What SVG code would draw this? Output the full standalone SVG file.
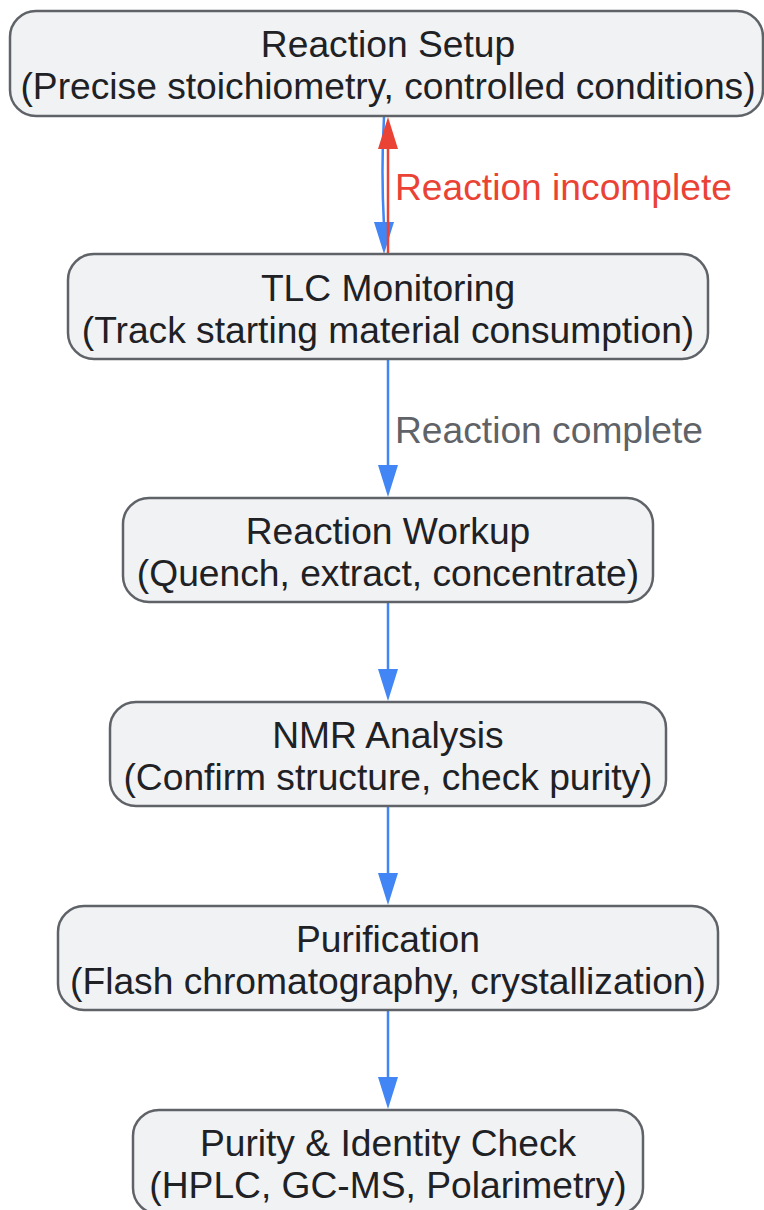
<svg xmlns="http://www.w3.org/2000/svg" width="764" height="1210" viewBox="0 0 764 1210">
<defs>
<style>
.node rect{fill:#f1f2f4;stroke:#5f6368;stroke-width:2.5}
.node text{font-family:"Liberation Sans",Arial,sans-serif;font-size:37.2px;fill:#202124;text-anchor:middle}
.e{fill:none;stroke-width:2.5}
.blue{stroke:#4285f4}
.red{stroke:#ea4335}
.lbl{font-family:"Liberation Sans",Arial,sans-serif;font-size:37.2px}
</style>
</defs>
<g id="connectors">
<path class="e blue" d="M384,117 Q381,170 384,226"/>
<path d="M374,222 L394,222 L384,254 Z" fill="#4285f4"/>
<line class="e red" x1="388" y1="254" x2="388" y2="146"/>
<path d="M378,149 L398,149 L388,117 Z" fill="#ea4335"/>
<line class="e blue" x1="388" y1="359" x2="388" y2="468"/>
<path d="M378,465 L398,465 L388,497 Z" fill="#4285f4"/>
<line class="e blue" x1="388" y1="602" x2="388" y2="672"/>
<path d="M378,669 L398,669 L388,701 Z" fill="#4285f4"/>
<line class="e blue" x1="388" y1="806" x2="388" y2="876"/>
<path d="M378,873 L398,873 L388,905 Z" fill="#4285f4"/>
<line class="e blue" x1="388" y1="1010" x2="388" y2="1080"/>
<path d="M378,1077 L398,1077 L388,1109 Z" fill="#4285f4"/>
<text class="lbl" x="395" y="200" fill="#ea4335">Reaction incomplete</text>
<text class="lbl" x="395" y="443" fill="#5f6368">Reaction complete</text>
</g>
<g id="n1" class="node"><rect x="10" y="11" width="753" height="105" rx="26"/><text x="388" y="57">Reaction Setup</text><text x="388" y="99">(Precise stoichiometry, controlled conditions)</text></g>
<g id="n2" class="node"><rect x="68" y="254" width="640" height="105" rx="26"/><text x="388" y="301">TLC Monitoring</text><text x="388" y="343">(Track starting material consumption)</text></g>
<g id="n3" class="node"><rect x="123" y="498" width="530" height="104" rx="26"/><text x="388" y="544">Reaction Workup</text><text x="388" y="586">(Quench, extract, concentrate)</text></g>
<g id="n4" class="node"><rect x="110" y="702" width="556" height="104" rx="26"/><text x="388" y="748">NMR Analysis</text><text x="388" y="790">(Confirm structure, check purity)</text></g>
<g id="n5" class="node"><rect x="58" y="906" width="660" height="104" rx="26"/><text x="388" y="952">Purification</text><text x="388" y="994">(Flash chromatography, crystallization)</text></g>
<g id="n6" class="node"><rect x="133" y="1110" width="510" height="104" rx="26"/><text x="388" y="1156">Purity &amp; Identity Check</text><text x="388" y="1198">(HPLC, GC-MS, Polarimetry)</text></g>
</svg>
